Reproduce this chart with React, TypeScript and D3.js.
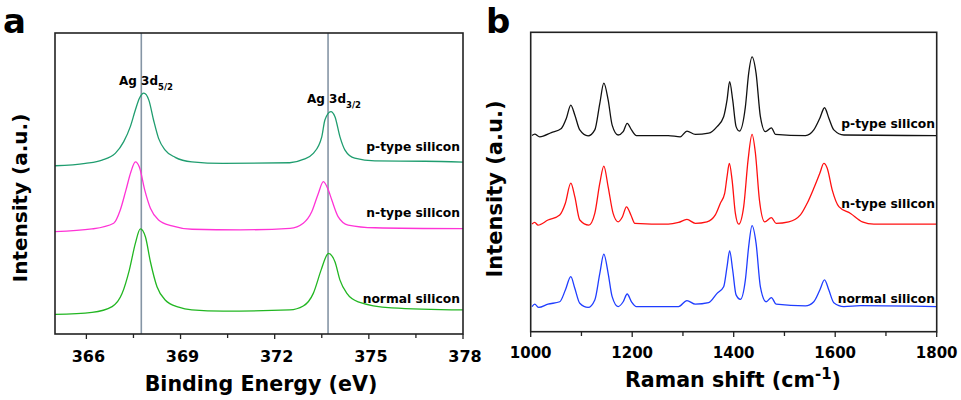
import React from 'react';
import * as d3 from 'd3';

// XPS spectra, panel a: [binding energy (eV), intensity (a.u.)]
const xpsPType: [number, number][] = [
  [365.0, 55.9], [365.97, 56.7], [366.5, 57.8], [366.92, 60.0], [367.19, 63.9], [367.4, 68.9],
  [367.56, 74.4], [367.69, 78.3], [367.83, 80.0], [367.99, 77.7], [368.14, 71.1], [368.3, 65.0],
  [368.51, 61.1], [368.83, 58.7], [369.36, 57.2], [370.35, 56.7], [372.48, 56.9], [372.91, 58.0],
  [373.23, 60.0], [373.5, 65.5], [373.6, 71.1], [373.79, 73.9], [373.92, 72.2], [374.08, 65.5],
  [374.24, 61.1], [374.55, 58.4], [375.19, 57.5], [376.79, 57.4], [378.0, 57.1],
];
const xpsNType: [number, number][] = [
  [365.0, 34.0], [366.18, 34.9], [366.87, 36.8], [367.08, 41.2], [367.26, 47.8], [367.42, 53.9],
  [367.56, 57.2], [367.69, 55.4], [367.86, 47.8], [368.04, 41.8], [368.3, 37.9], [368.73, 35.9],
  [369.37, 34.8], [370.9, 34.6], [372.49, 35.1], [372.91, 36.8], [373.18, 40.6], [373.39, 46.7],
  [373.55, 50.6], [373.71, 47.8], [373.82, 44.5], [374.02, 39.0], [374.34, 36.2], [375.19, 35.3],
  [378.0, 35.0],
];
const xpsNormal: [number, number][] = [
  [365.0, 6.5], [366.18, 7.2], [366.82, 9.1], [367.14, 13.5], [367.37, 21.3], [367.56, 30.1],
  [367.72, 34.9], [367.88, 32.3], [368.04, 24.0], [368.25, 15.7], [368.51, 11.3], [368.94, 8.9],
  [369.36, 8.0], [370.36, 7.6], [372.48, 8.0], [372.91, 9.3], [373.23, 13.5], [373.48, 21.3],
  [373.66, 26.2], [373.71, 26.8], [373.92, 24.0], [374.08, 17.9], [374.3, 13.5], [374.66, 10.7],
  [375.73, 8.7], [378.0, 8.0],
];
const agLines = [367.75, 373.7];

// Raman spectra, panel b: [shift (cm-1), intensity (a.u.)]
const ramanPType: [number, number][] = [
  [1002.6, 65.5], [1007.9, 66.0], [1017.8, 65.1], [1040.7, 66.5], [1060.4, 67.9], [1070.3, 71.3],
  [1079.0, 75.7], [1086.9, 72.4], [1096.7, 67.4], [1113.1, 65.4], [1126.3, 67.4], [1136.2, 76.3],
  [1144.1, 83.0], [1152.6, 77.4], [1160.5, 69.0], [1172.3, 65.7], [1182.2, 66.8], [1190.1, 69.6],
  [1198.6, 67.4], [1208.4, 65.5], [1271.0, 65.5], [1294.7, 65.1], [1307.9, 67.0], [1324.3, 65.9],
  [1350.6, 66.3], [1367.2, 68.5], [1380.2, 71.8], [1386.9, 77.4], [1392.0, 83.5], [1398.0, 77.4],
  [1404.7, 68.5], [1411.2, 67.0], [1423.0, 75.1], [1429.5, 86.3], [1436.2, 91.8], [1444.1, 86.3],
  [1452.6, 71.8], [1462.5, 66.8], [1474.3, 68.1], [1482.2, 65.9], [1541.5, 65.5], [1557.8, 67.4],
  [1569.7, 71.3], [1579.0, 74.8], [1587.5, 71.3], [1597.3, 67.4], [1617.1, 65.7], [1800, 65.5],
];
const ramanNType: [number, number][] = [
  [1002.6, 36.0], [1007.9, 36.5], [1014.4, 35.6], [1034.1, 37.3], [1057.2, 39.0], [1068.3, 42.9],
  [1079.0, 49.6], [1086.9, 45.1], [1096.7, 37.3], [1114.5, 35.6], [1126.3, 39.5], [1136.2, 49.6],
  [1144.1, 55.3], [1152.6, 48.4], [1162.4, 39.5], [1172.3, 36.7], [1180.8, 38.4], [1188.7, 41.7],
  [1197.4, 39.0], [1205.3, 36.2], [1271.0, 35.9], [1291.4, 36.5], [1307.9, 37.5], [1324.3, 36.2],
  [1347.4, 36.7], [1363.8, 39.0], [1373.7, 42.9], [1382.2, 46.2], [1386.9, 51.8], [1391.4, 56.2],
  [1396.8, 50.7], [1403.3, 39.5], [1409.8, 35.9], [1419.7, 41.8], [1428.3, 57.3], [1436.2, 65.9],
  [1442.8, 59.6], [1450.7, 44.0], [1461.1, 36.7], [1474.3, 38.1], [1483.6, 36.2], [1508.5, 36.7],
  [1531.5, 39.0], [1544.8, 42.9], [1557.8, 47.9], [1569.7, 52.9], [1577.6, 56.2], [1584.3, 54.6],
  [1594.2, 47.3], [1607.2, 41.8], [1630.3, 39.5], [1653.4, 36.7], [1676.3, 35.9], [1800, 35.9],
];
const ramanNormal: [number, number][] = [
  [1002.6, 8.4], [1007.9, 9.2], [1015.8, 8.1], [1034.1, 9.2], [1057.2, 10.0], [1068.3, 13.9],
  [1079.0, 18.4], [1086.9, 14.5], [1096.7, 9.5], [1113.1, 8.1], [1126.3, 10.6], [1136.2, 19.5],
  [1144.1, 25.9], [1152.6, 19.5], [1160.5, 11.7], [1172.3, 8.4], [1182.2, 10.0], [1190.1, 12.6],
  [1198.6, 10.0], [1208.4, 8.4], [1271.0, 8.4], [1291.4, 8.4], [1307.9, 10.4], [1324.3, 9.2],
  [1350.6, 9.7], [1367.2, 12.8], [1380.2, 15.0], [1386.9, 21.7], [1392.0, 27.0], [1398.0, 20.6],
  [1404.7, 12.3], [1413.2, 10.8], [1423.0, 17.3], [1429.5, 28.4], [1436.2, 35.4], [1444.1, 29.5],
  [1452.6, 15.0], [1463.9, 10.0], [1474.3, 11.4], [1483.6, 9.2], [1541.5, 8.6], [1557.8, 10.0],
  [1569.7, 13.9], [1579.0, 17.3], [1587.5, 13.9], [1597.3, 9.7], [1617.1, 8.4], [1650.0, 8.7],
  [1800, 8.4],
];

const xpsMajor = [366, 369, 372, 375, 378];
const xpsMinor = [367.5, 370.5, 373.5, 376.5];
const ramanMajor = [1000, 1200, 1400, 1600, 1800];
const ramanMinor = [1100, 1300, 1500, 1700];
const sampleNames = ['p-type silicon', 'n-type silicon', 'normal silicon'];

const FONT = '"DejaVu Sans", sans-serif';

export default function App() {
  const xA = d3.scaleLinear().domain([365, 378]).range([55, 463]);
  const yA = d3.scaleLinear().domain([0, 100]).range([334, 33]);
  const xB = d3.scaleLinear().domain([1000, 1800]).range([530.7, 936.7]);
  const yB = d3.scaleLinear().domain([0, 100]).range([331.7, 32.3]);

  const lineA = d3.line<[number, number]>().x(d => xA(d[0])).y(d => yA(d[1])).curve(d3.curveMonotoneX);
  const lineB = d3.line<[number, number]>().x(d => xB(d[0])).y(d => yB(d[1])).curve(d3.curveMonotoneX);

  const seriesA = [
    { data: xpsPType, color: '#1f9d6f', label: sampleNames[0], ly: 151 },
    { data: xpsNType, color: '#ff33d6', label: sampleNames[1], ly: 217 },
    { data: xpsNormal, color: '#22b622', label: sampleNames[2], ly: 303 },
  ];
  const seriesB = [
    { data: ramanPType, color: '#111111', label: sampleNames[0], ly: 128 },
    { data: ramanNType, color: '#ff1010', label: sampleNames[1], ly: 208 },
    { data: ramanNormal, color: '#1f3dff', label: sampleNames[2], ly: 303 },
  ];

  const frame = (x: d3.ScaleLinear<number, number>, y: d3.ScaleLinear<number, number>) => (
    <rect x={x.range()[0]} y={y.range()[1]} width={x.range()[1] - x.range()[0]}
      height={y.range()[0] - y.range()[1]} fill="none" stroke="#222" strokeWidth={1.6} />
  );

  return (
    <svg width={961} height={400} style={{ position: 'absolute', left: 0, top: 0, background: '#fff' }}
      fontFamily={FONT} fontWeight="bold">
      {/* panel a */}
      <text x={3} y={33} fontSize={34}>a</text>
      {agLines.map(v => (
        <line key={v} x1={xA(v)} x2={xA(v)} y1={yA.range()[1]} y2={yA.range()[0]} stroke="#8595a5" strokeWidth={1.6} />
      ))}
      {seriesA.map(s => (
        <path key={s.label} d={lineA(s.data) ?? ''} fill="none" stroke={s.color} strokeWidth={1.3} />
      ))}
      {seriesA.map(s => (
        <text key={s.label} x={460} y={s.ly} fontSize={12.3} textAnchor="end">{s.label}</text>
      ))}
      <text x={119} y={85} fontSize={12}>Ag 3d<tspan fontSize={8.5} dy={5}>5/2</tspan></text>
      <text x={307} y={103} fontSize={12}>Ag 3d<tspan fontSize={8.5} dy={5}>3/2</tspan></text>
      {frame(xA, yA)}
      {xpsMajor.map(v => (
        <g key={v}>
          <line x1={xA(v)} x2={xA(v)} y1={334} y2={339} stroke="#222" strokeWidth={1.3} />
          <text x={xA(v) + 2} y={362} fontSize={16} textAnchor="middle">{v}</text>
        </g>
      ))}
      {xpsMinor.map(v => (
        <line key={v} x1={xA(v)} x2={xA(v)} y1={334} y2={338} stroke="#222" strokeWidth={1.3} />
      ))}
      <text x={261} y={391} fontSize={20.6} textAnchor="middle">Binding Energy (eV)</text>
      <text transform="translate(27,198) rotate(-90)" fontSize={20} textAnchor="middle">Intensity (a.u.)</text>

      {/* panel b */}
      <text x={486} y={33} fontSize={34}>b</text>
      {seriesB.map(s => (
        <path key={s.label} d={lineB(s.data) ?? ''} fill="none" stroke={s.color} strokeWidth={1.3} />
      ))}
      {seriesB.map(s => (
        <text key={s.label} x={935} y={s.ly} fontSize={12.3} textAnchor="end">{s.label}</text>
      ))}
      {frame(xB, yB)}
      {ramanMajor.map(v => (
        <g key={v}>
          <line x1={xB(v)} x2={xB(v)} y1={331.7} y2={337} stroke="#222" strokeWidth={1.3} />
          <text x={xB(v)} y={358} fontSize={15} textAnchor="middle">{v}</text>
        </g>
      ))}
      {ramanMinor.map(v => (
        <line key={v} x1={xB(v)} x2={xB(v)} y1={331.7} y2={336} stroke="#222" strokeWidth={1.3} />
      ))}
      <text x={733} y={387} fontSize={20.6} textAnchor="middle">
        Raman shift (cm<tspan fontSize={15} dy={-8}>-1</tspan><tspan dy={8}>)</tspan>
      </text>
      <text transform="translate(502,189) rotate(-90)" fontSize={21} textAnchor="middle">Intensity (a.u.)</text>
    </svg>
  );
}
